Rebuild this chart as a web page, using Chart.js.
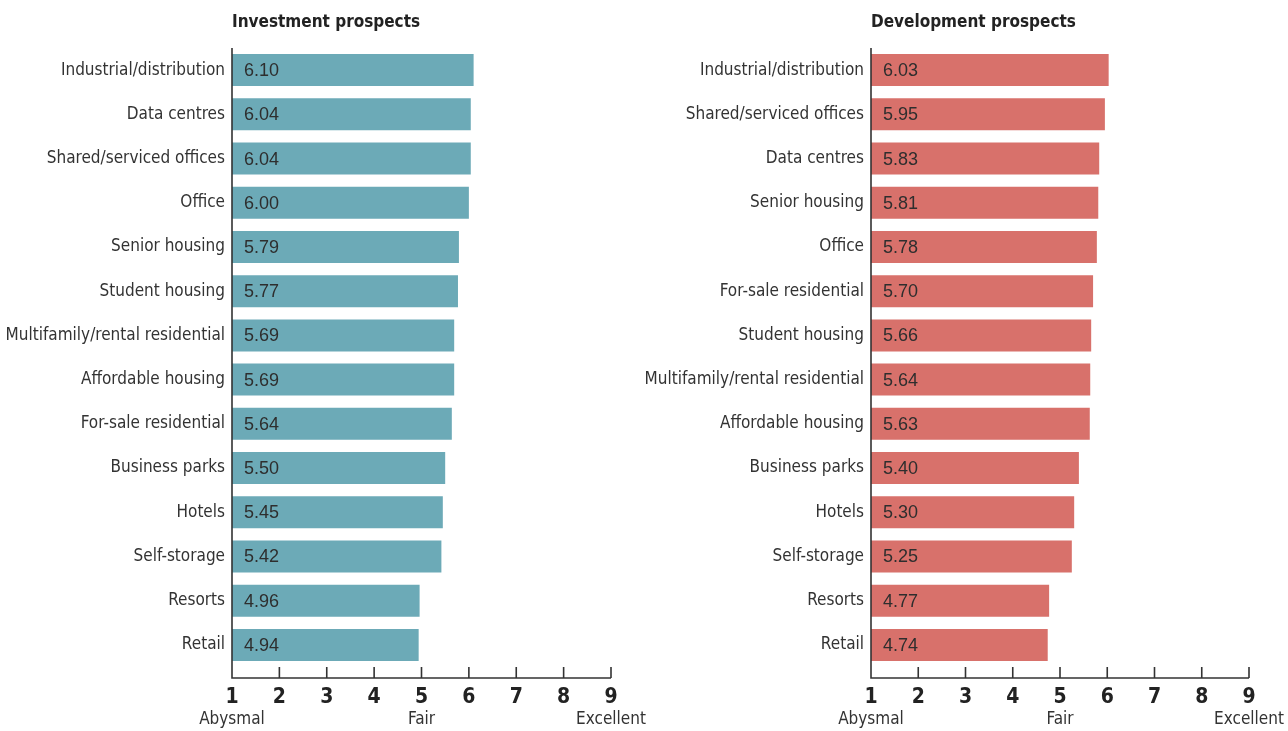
<!DOCTYPE html>
<html>
<head>
<meta charset="utf-8">
<script src="https://cdn.jsdelivr.net/npm/chart.js@4"></script>
<style>
  html, body { margin: 0; padding: 0; background: #fff; }
  #wrap { position: relative; width: 1288px; height: 731px; }
  .box { position: absolute; top: 0; height: 731px; }
</style>
</head>
<body>
<div id="wrap">
  <div class="box" style="left:0;width:700px"><canvas id="investChart"></canvas></div>
  <div class="box" style="left:644px;width:644px"><canvas id="devChart"></canvas></div>
</div>
<script>
// --- data ---
const investLabels = ['Industrial/distribution', 'Data centres', 'Shared/serviced offices', 'Office',
  'Senior housing', 'Student housing', 'Multifamily/rental residential', 'Affordable housing',
  'For-sale residential', 'Business parks', 'Hotels', 'Self-storage', 'Resorts', 'Retail'];
const investValues = [6.10, 6.04, 6.04, 6.00, 5.79, 5.77, 5.69, 5.69, 5.64, 5.50, 5.45, 5.42, 4.96, 4.94];

const devLabels = ['Industrial/distribution', 'Shared/serviced offices', 'Data centres', 'Senior housing',
  'Office', 'For-sale residential', 'Student housing', 'Multifamily/rental residential',
  'Affordable housing', 'Business parks', 'Hotels', 'Self-storage', 'Resorts', 'Retail'];
const devValues = [6.03, 5.95, 5.83, 5.81, 5.78, 5.70, 5.66, 5.64, 5.63, 5.40, 5.30, 5.25, 4.77, 4.74];

const scaleTicks = [1, 2, 3, 4, 5, 6, 7, 8, 9];
const scaleWords = { 1: 'Abysmal', 5: 'Fair', 9: 'Excellent' };

const NARROW = "'DejaVu Sans Condensed', 'Liberation Sans Narrow', sans-serif";
const REGULAR = "'Liberation Sans', Arial, sans-serif";
const INK = '#2e2e2e';

// axis lines, tick marks, title and values inside the bars
const decorPlugin = {
  id: 'decor',
  afterDatasetsDraw(chart, args, opts) {
    const ctx = chart.ctx;
    const area = chart.chartArea;
    const x = chart.scales.x;
    const axisY = area.bottom + 11;
    ctx.save();
    ctx.strokeStyle = '#333';
    ctx.lineWidth = 1.6;
    ctx.beginPath();
    ctx.moveTo(area.left, area.top);
    ctx.lineTo(area.left, axisY);
    ctx.lineTo(x.getPixelForValue(9), axisY);
    scaleTicks.forEach(t => {
      const px = x.getPixelForValue(t);
      ctx.moveTo(px, axisY);
      ctx.lineTo(px, area.bottom);
    });
    ctx.stroke();

    // values
    ctx.fillStyle = INK;
    ctx.font = '18px ' + REGULAR;
    ctx.textBaseline = 'middle';
    ctx.textAlign = 'left';
    const meta = chart.getDatasetMeta(0);
    meta.data.forEach((bar, i) => {
      const v = chart.data.datasets[0].data[i];
      ctx.fillText(v.toFixed(2), area.left + 12, bar.y + 1);
    });

    // title
    ctx.fillStyle = '#222';
    ctx.font = 'bold 17px ' + NARROW;
    ctx.textBaseline = 'alphabetic';
    ctx.fillText(opts.text, area.left, 27);
    ctx.restore();
  }
};

function noSidePadding(s) {
  s.paddingLeft = 0;
  s.paddingRight = 0;
}

function buildChart(canvasId, labels, values, color, title, yWidth, padRight) {
  const canvas = document.getElementById(canvasId);
  return new Chart(canvas.getContext('2d'), {
    type: 'bar',
    data: {
      labels: labels,
      datasets: [{
        data: values,
        base: 1,
        backgroundColor: color,
        borderWidth: 0,
        barPercentage: 0.724,
        categoryPercentage: 1
      }]
    },
    options: {
      indexAxis: 'y',
      responsive: true,
      maintainAspectRatio: false,
      animation: false,
      layout: { padding: { top: 48, right: padRight, bottom: 0, left: 0 } },
      plugins: {
        legend: { display: false },
        tooltip: { enabled: false },
        decor: { text: title }
      },
      scales: {
        y: {
          grid: { display: false, drawTicks: false },
          border: { display: false },
          ticks: { color: '#333', padding: 7, font: { family: NARROW, size: 17 } },
          afterFit: s => { s.width = yWidth; }
        },
        x: {
          position: 'bottom',
          weight: 0,
          min: 1,
          max: 9,
          grid: { display: false, drawTicks: false },
          border: { display: false },
          afterBuildTicks: s => { s.ticks = scaleTicks.map(v => ({ value: v })); },
          ticks: { color: '#222', padding: 18, autoSkip: false, maxRotation: 0,
            font: { family: NARROW, size: 21, weight: 'bold' } },
          afterFit: s => { s.height = 40; noSidePadding(s); }
        },
        x2: {
          type: 'linear',
          position: 'bottom',
          axis: 'x',
          weight: 1,
          min: 1,
          max: 9,
          grid: { display: false, drawTicks: false },
          border: { display: false },
          afterBuildTicks: s => { s.ticks = Object.keys(scaleWords).map(v => ({ value: +v })); },
          ticks: { color: '#333', padding: 2, autoSkip: false, maxRotation: 0,
            font: { family: NARROW, size: 17 },
            callback: v => scaleWords[v] || '' },
          afterFit: s => { s.height = 24; noSidePadding(s); }
        }
      }
    },
    plugins: [decorPlugin]
  });
}

buildChart('investChart', investLabels, investValues, '#6caab7', 'Investment prospects', 232, 89);
buildChart('devChart', devLabels, devValues, '#d8716b', 'Development prospects', 227, 39);
</script>
</body>
</html>
